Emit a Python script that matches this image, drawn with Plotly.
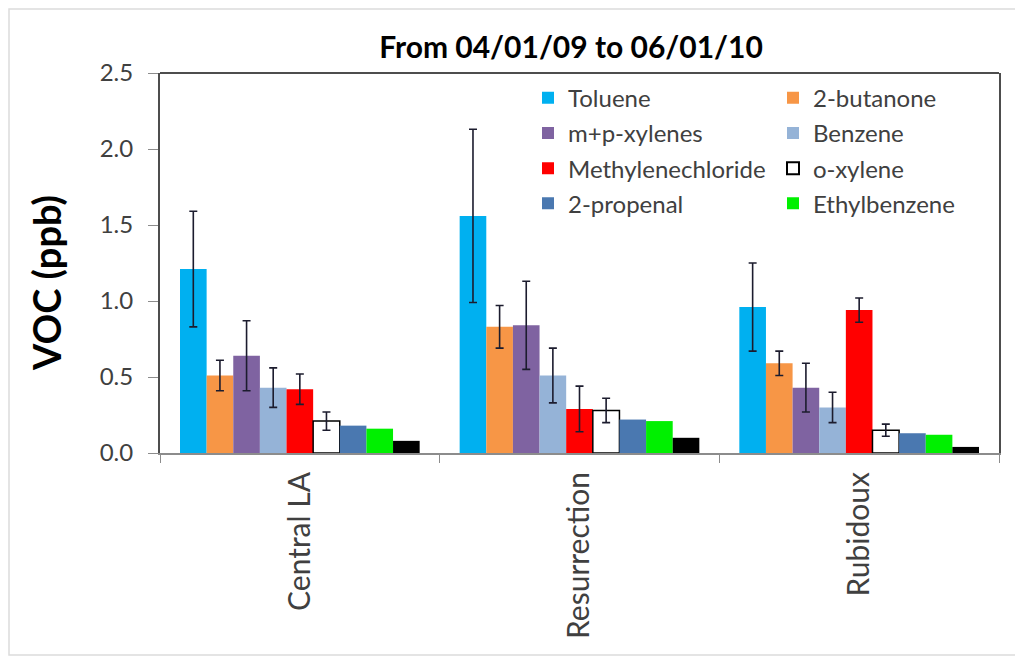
import plotly.graph_objects as go

# Sites on the category axis
sites = ["Central LA", "Resurrection", "Rubidoux"]

# Mean concentrations (ppb) per compound at each site
toluene = [1.21, 1.56, 0.96]
butanone = [0.51, 0.83, 0.59]
mp_xylenes = [0.64, 0.84, 0.43]
benzene = [0.43, 0.51, 0.30]
methylenechloride = [0.42, 0.29, 0.94]
o_xylene = [0.21, 0.28, 0.15]
propenal = [0.18, 0.22, 0.13]
ethylbenzene = [0.16, 0.21, 0.12]
other_voc = [0.08, 0.10, 0.04]

# Standard deviations (ppb) for the error bars
toluene_sd = [0.38, 0.57, 0.29]
butanone_sd = [0.10, 0.14, 0.08]
mp_xylenes_sd = [0.23, 0.29, 0.16]
benzene_sd = [0.13, 0.18, 0.10]
methylenechloride_sd = [0.10, 0.15, 0.08]
o_xylene_sd = [0.06, 0.08, 0.04]

y_ticks = [0.0, 0.5, 1.0, 1.5, 2.0, 2.5]

FONT = "Lato"
ERR_COLOR = "#1c1c2e"

series = [
    # name, values, sd, fill, outline, legend id
    ("Toluene", toluene, toluene_sd, "#00B0F0", None, "legend"),
    ("2-butanone", butanone, butanone_sd, "#F79646", None, "legend2"),
    ("m+p-xylenes", mp_xylenes, mp_xylenes_sd, "#7F63A1", None, "legend"),
    ("Benzene", benzene, benzene_sd, "#95B3D7", None, "legend2"),
    ("Methylenechloride", methylenechloride, methylenechloride_sd, "#FF0000", None, "legend"),
    ("o-xylene", o_xylene, o_xylene_sd, "#FFFFFF", "#000000", "legend2"),
    ("2-propenal", propenal, None, "#4A78B0", None, "legend"),
    ("Ethylbenzene", ethylbenzene, None, "#00F000", None, "legend2"),
    ("Other VOC", other_voc, None, "#000000", None, None),
]

fig = go.Figure()
for i, (name, vals, sd, fill, outline, leg) in enumerate(series):
    bar = dict(
        x=sites,
        y=vals,
        name=name,
        marker=dict(
            color=fill,
            line=dict(color=outline if outline else fill, width=1.5 if outline else 0),
        ),
        legendgroup=name,
    )
    if sd is not None:
        bar["error_y"] = dict(type="data", array=sd, visible=True,
                              color=ERR_COLOR, thickness=1.6, width=4)
    if leg is None:
        bar["showlegend"] = False
    else:
        bar["legend"] = leg
    fig.add_trace(go.Bar(**bar))

L, R, T, B = 160, 16, 73, 206
W, H = 1015, 659
pw = W - L - R
ph = H - T - B

legend_common = dict(
    font=dict(family=FONT, size=24, color="#404040"),
    bgcolor="rgba(0,0,0,0)",
    yanchor="top",
    y=0.993,
    xanchor="left",
    tracegroupgap=1,
    itemsizing="constant",
)

fig.update_layout(
    width=W,
    height=H,
    margin=dict(l=L, r=R, t=T, b=B),
    paper_bgcolor="white",
    plot_bgcolor="white",
    barmode="group",
    bargap=0.143,
    bargroupgap=0,
    font=dict(family=FONT, color="#404040"),
    title=dict(
        text="<b>From 04/01/09 to 06/01/10</b>",
        font=dict(family=FONT, size=30, color="#000000"),
        x=571 / W, xanchor="center",
        y=1 - 47 / H, yanchor="middle",
    ),
    legend=dict(x=(528 - L) / pw, **legend_common),
    legend2=dict(x=(773 - L) / pw, **legend_common),
    xaxis=dict(
        showline=True, linecolor="#8c8c8c", linewidth=2,
        ticks="outside", tickson="boundaries", ticklen=8, tickcolor="#8c8c8c",
        tickangle=-90, ticklabelstandoff=5,
        tickfont=dict(family=FONT, size=30, color="#404040"),
        showgrid=False,
    ),
    yaxis=dict(
        range=[0, 2.5],
        tickvals=y_ticks,
        tickformat=".1f",
        showline=True, mirror=True, linecolor="#4d4d4d", linewidth=2,
        ticks="outside", ticklen=10, tickcolor="#8c8c8c",
        ticklabelstandoff=10,
        tickfont=dict(family=FONT, size=24, color="#404040"),
        showgrid=False, zeroline=False,
    ),
    shapes=[
        # top border of the plot area
        dict(type="line", xref="paper", yref="paper", x0=0, x1=1, y0=1, y1=1,
             line=dict(color="#4d4d4d", width=2)),
        # light outer frame around the figure
        dict(type="rect", xref="paper", yref="paper",
             x0=(9 - L) / pw, x1=(1030 - L) / pw,
             y0=(H - B - 655) / ph, y1=(H - B - 9) / ph,
             line=dict(color="#dcdcdc", width=1.5), layer="below"),
    ],
    annotations=[
        dict(text="<b>VOC (ppb)</b>", xref="paper", yref="paper",
             x=(46 - L) / pw, y=(H - B - 283) / ph, textangle=-90,
             showarrow=False, xanchor="center", yanchor="middle",
             font=dict(family=FONT, size=38, color="#000000")),
    ],
)

fig.write_html("out.html")
